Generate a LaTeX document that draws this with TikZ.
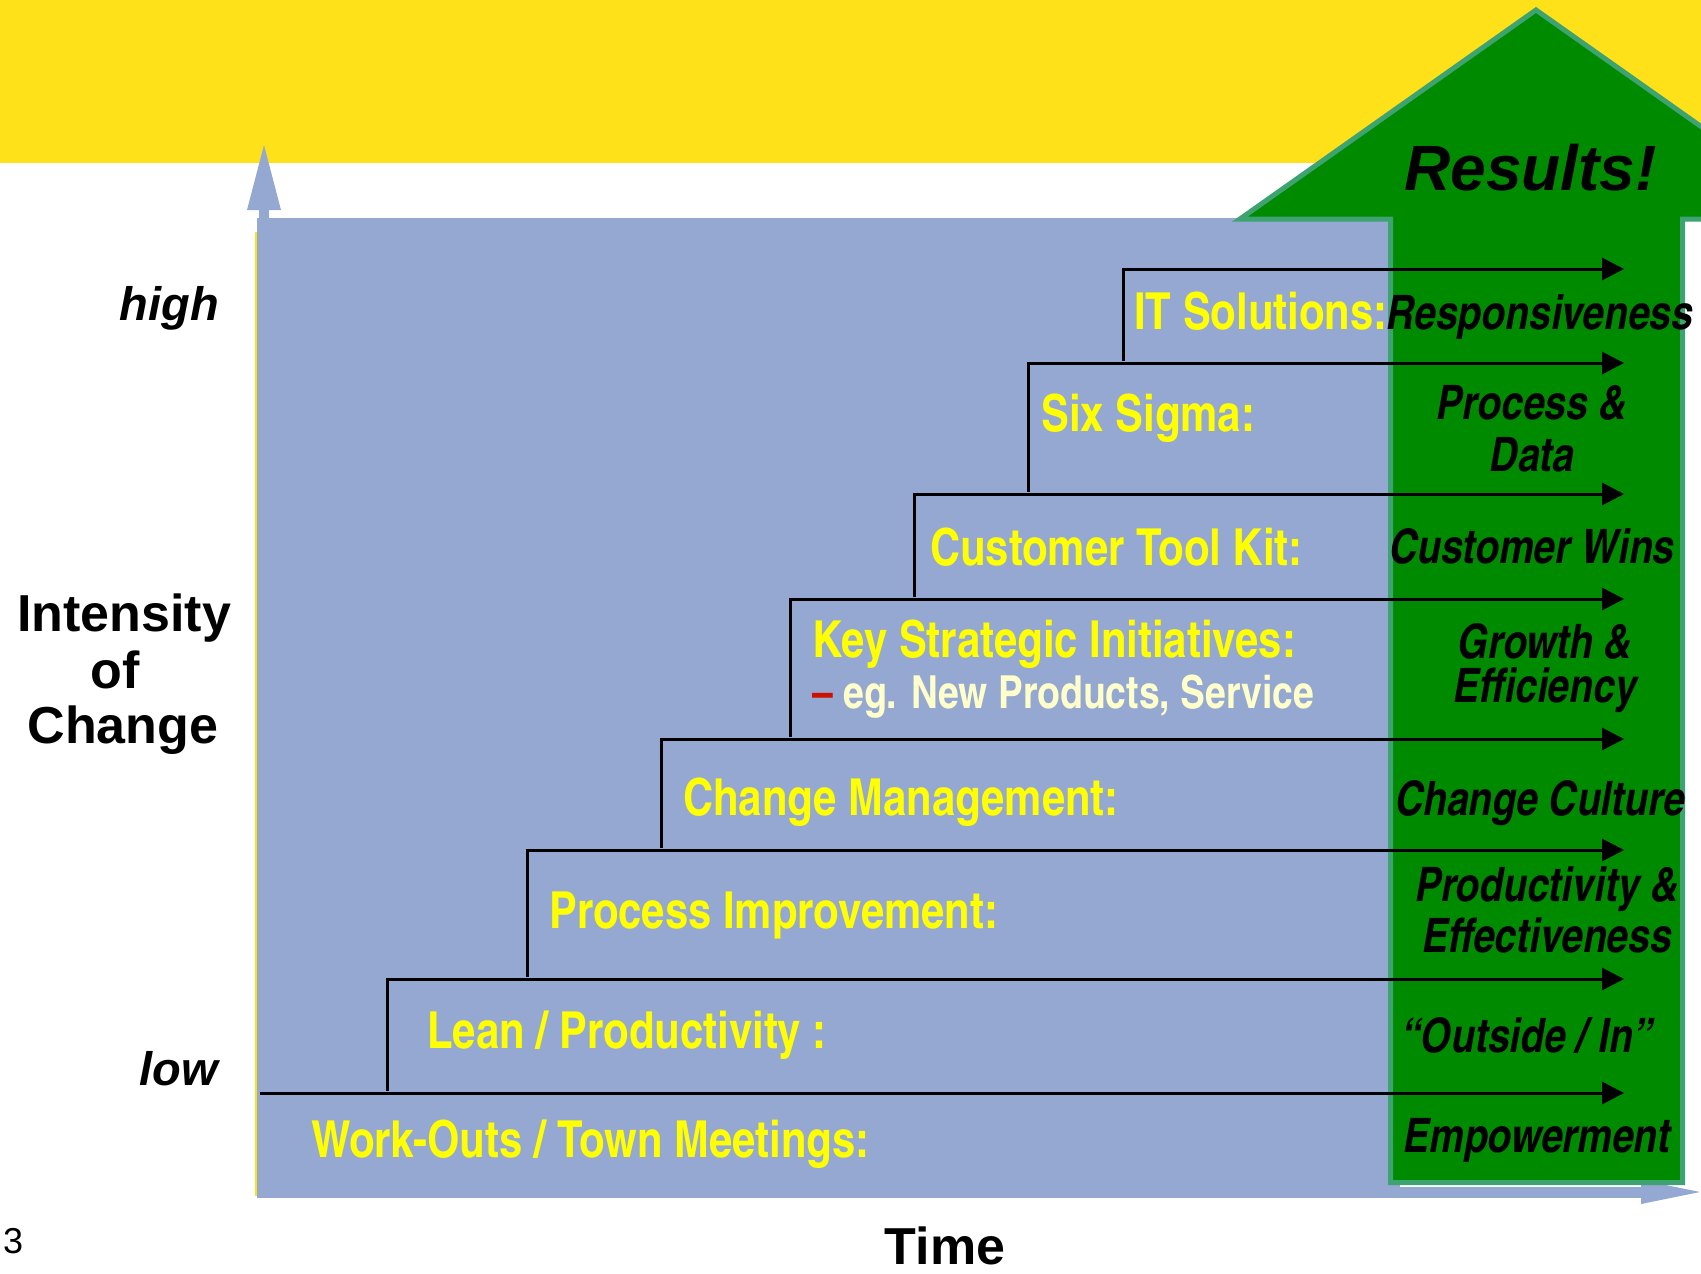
\documentclass[tikz,border=0pt]{standalone}
\usepackage{fontspec}
\setmainfont{Liberation Sans}
\newfontfamily\cnb{texgyreheroscn-bold.otf}
\newfontfamily\cnbi{texgyreheroscn-bolditalic.otf}
\usetikzlibrary{arrows.meta}
\definecolor{band}{HTML}{FFE11A}
\definecolor{bluefill}{HTML}{94A8D2}
\definecolor{gfill}{HTML}{008A00}
\definecolor{gline}{HTML}{3DA370}
\definecolor{labyellow}{HTML}{FFFF00}
\definecolor{paleyellow}{HTML}{FFFFCC}
\definecolor{dashred}{HTML}{CC1100}
\tikzset{
  ylab/.style={text=labyellow, font=\cnb\fontsize{51}{53}\selectfont, anchor=base west, inner sep=0pt},
  rlab/.style={text=black, font=\cnbi\fontsize{47.5}{50}\selectfont, anchor=base, inner sep=0pt},
  axlab/.style={text=black, font=\bfseries\fontsize{52}{56}\selectfont, anchor=base, inner sep=0pt},
  hilo/.style={text=black, font=\bfseries\itshape\fontsize{47}{50}\selectfont, anchor=base east, inner sep=0pt},
  stairarrow/.style={line width=3pt, black, line join=miter, -{Triangle[length=22pt,width=22pt]}},
}
\begin{document}
\begin{tikzpicture}[x=1pt,y=-1pt]
\useasboundingbox (0,0) rectangle (1701,1274);
\clip (0,0) rectangle (1701,1274);
\fill[white] (0,0) rectangle (1701,1274);
% yellow band
\fill[band] (0,0) rectangle (1701,163);
% blue field
\fill[bluefill] (257,218) rectangle (1400,1197);
% vertical axis arrow
\fill[bluefill] (259,205) rectangle (269,230);
\fill[bluefill] (264,145) -- (281,210) -- (247,210) -- cycle;
\draw[band, line width=2pt] (256,232) -- (256,1196);
% horizontal axis arrow
\fill[bluefill] (257,1187) rectangle (1642,1198);
\fill[bluefill] (1700,1192) -- (1641,1180) -- (1641,1204) -- cycle;
% green results arrow
\filldraw[fill=gfill, draw=gline, line width=5pt, line join=miter]
  (1390.5,1182.5) -- (1390.5,219) -- (1240,219) -- (1536,10) -- (1832,219)
  -- (1682.5,219) -- (1682.5,1182.5) -- cycle;
\node[text=black, font=\bfseries\itshape\fontsize{64}{68}\selectfont, anchor=base west, inner sep=0pt] (res) at (1404,190) {Results!};
% staircase coordinates
\coordinate (s0) at (260,1093); \coordinate (e0) at (1624,1093);
\coordinate (b1) at (387,1091); \coordinate (t1) at (387,979);  \coordinate (e1) at (1624,979);
\coordinate (b2) at (527,977);  \coordinate (t2) at (527,850);  \coordinate (e2) at (1624,850);
\coordinate (b3) at (661,848);  \coordinate (t3) at (661,739);  \coordinate (e3) at (1624,739);
\coordinate (b4) at (790,737);  \coordinate (t4) at (790,599);  \coordinate (e4) at (1624,599);
\coordinate (b5) at (914,597);  \coordinate (t5) at (914,494);  \coordinate (e5) at (1624,494);
\coordinate (b6) at (1028,492); \coordinate (t6) at (1028,363); \coordinate (e6) at (1624,363);
\coordinate (b7) at (1123,361); \coordinate (t7) at (1123,269); \coordinate (e7) at (1624,269);
\draw[stairarrow] (s0) -- (e0);
\draw[stairarrow] (b1) -- (t1) -- (e1);
\draw[stairarrow] (b2) -- (t2) -- (e2);
\draw[stairarrow] (b3) -- (t3) -- (e3);
\draw[stairarrow] (b4) -- (t4) -- (e4);
\draw[stairarrow] (b5) -- (t5) -- (e5);
\draw[stairarrow] (b6) -- (t6) -- (e6);
\draw[stairarrow] (b7) -- (t7) -- (e7);
% yellow step labels
\node[ylab] (l0) at (311,1157) {Work-Outs / Town Meetings:};
\node[ylab] (l1) at (427,1048) {Lean / Productivity :};
\node[ylab] (l2) at (549,928) {Process Improvement:};
\node[ylab] (l3) at (683,815) {Change Management:};
\node[ylab] (l4) at (812,657) {Key Strategic Initiatives:};
\node[ylab, font=\cnb\fontsize{45.5}{48}\selectfont] (l4b) at (812,708) {\textcolor{dashred}{–} \textcolor{paleyellow}{eg. New Products, Service}};
\node[ylab] (l5) at (930,565) {Customer Tool Kit:};
\node[ylab] (l6) at (1041,431) {Six Sigma:};
\node[ylab] (l7) at (1134,329) {IT Solutions:};
% result labels
\node[rlab] (r7) at (1540,329) {Responsiveness};
\node[rlab] (r6a) at (1532,419) {Process \&};
\node[rlab] (r6b) at (1532,471) {Data};
\node[rlab] (r5) at (1532,563) {Customer Wins};
\node[rlab] (r4a) at (1545,658) {Growth \&};
\node[rlab] (r4b) at (1545,702) {Efficiency};
\node[rlab] (r3) at (1540,815) {Change Culture};
\node[rlab] (r2a) at (1547,901) {Productivity \&};
\node[rlab] (r2b) at (1547,952) {Effectiveness};
\node[rlab] (r1) at (1527,1052) {“Outside / In”};
\node[rlab] (r0) at (1537,1152) {Empowerment};
% axis labels
\node[hilo] (hi) at (219,320) {high};
\node[hilo] (lo) at (218,1085) {low};
\node[axlab] (in1) at (124,631) {Intensity};
\node[axlab] (in2) at (115,688) {of};
\node[axlab] (in3) at (123,743) {Change};
\node[axlab] (tm) at (945,1264) {Time};
\node[text=black, font=\fontsize{36}{40}\selectfont, anchor=base west, inner sep=0pt] (pg) at (3,1253) {3};
\end{tikzpicture}
\end{document}
